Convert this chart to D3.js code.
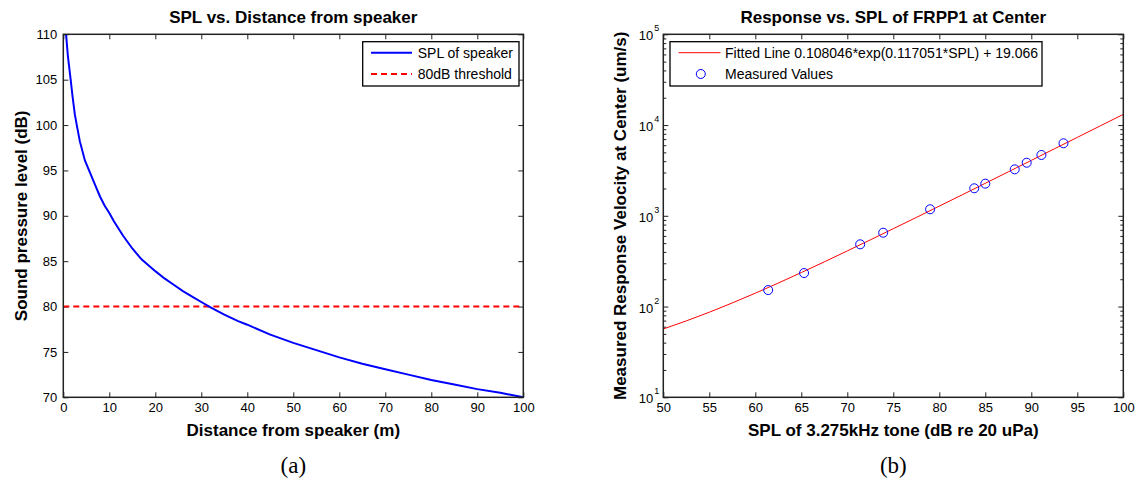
<!DOCTYPE html>
<html>
<head>
<meta charset="utf-8">
<script src="https://cdn.jsdelivr.net/npm/d3@7"></script>
<style>
  body { margin: 0; background: #fff; }
  svg { display: block; }
  text { font-family: "Liberation Sans", Arial, Helvetica, sans-serif; fill: #000; }
</style>
</head>
<body>
<svg id="chart" width="1140" height="482"></svg>
<script>
// ---- Panel (a): sound pressure level against distance ----
const distance = [0.6, 1, 1.6, 2, 2.5, 3, 3.6, 4.7, 5.6, 7, 8, 9, 10, 11, 13, 15, 17, 20, 22, 24, 26, 28, 30,
                  32, 35, 38, 40, 45, 50, 55, 60, 65, 70, 75, 80, 85, 90, 95, 100];
const splSpeaker = [110, 107.6, 105, 103.2, 101.2, 99.8, 98.2, 96.1, 95, 93.3, 92.1, 91.1, 90.3, 89.4, 87.8, 86.4, 85.2, 83.9, 83.1, 82.4, 81.7, 81.1, 80.5,
                    79.9, 79.1, 78.4, 78, 76.9, 76, 75.2, 74.4, 73.7, 73.1, 72.5, 71.9, 71.4, 70.9, 70.5, 70];
const thresholdDb = 80;
const distTicks = [0, 10, 20, 30, 40, 50, 60, 70, 80, 90, 100];
const splTicks = [70, 75, 80, 85, 90, 95, 100, 105, 110];

// ---- Panel (b): response velocity against SPL ----
const fitSPL = [50, 52.5, 55, 57.5, 60, 62.5, 65, 67.5, 70, 72.5, 75, 77.5, 80, 82.5, 85, 87.5, 90, 92.5, 95, 97.5, 100];
const fitVelocity = [56.6, 69.5, 86.6, 109.6, 140.4, 181.5, 236.9, 310.8, 410.2, 542.7, 721.3, 958.8, 1279.5,
                     1705.6, 2281.8, 3050.9, 4081.6, 5464.7, 7312, 9797, 13106];
const measSPL = [61.4, 65.3, 71.4, 73.9, 79.0, 83.8, 85.0, 88.2, 89.5, 91.1, 93.5];
const measVelocity = [152, 234, 485, 651, 1180, 2010, 2260, 3250, 3845, 4680, 6300];
const splTicksB = [50, 55, 60, 65, 70, 75, 80, 85, 90, 95, 100];
const velExponents = [1, 2, 3, 4, 5];

const svg = d3.select("#chart");
const axisColor = "#222";
const labelSize = 17;
const legendSize = 14;

function styleAxis(sel) {
  sel.select(".domain").remove();
  sel.selectAll(".tick line").attr("stroke", axisColor).attr("stroke-width", 1);
  sel.selectAll(".tick text").attr("font-size", 13).attr("fill", "#222")
    .style("font-family", '"Liberation Sans", Arial, sans-serif');
}

function xAxes(g, x, ticks, h) {
  const bottom = g.append("g").attr("transform", `translate(0,${h})`)
    .call(d3.axisBottom(x).tickValues(ticks).tickSizeInner(-5).tickSizeOuter(0).tickPadding(5));
  const top = g.append("g")
    .call(d3.axisTop(x).tickValues(ticks).tickSizeInner(-5).tickSizeOuter(0).tickFormat(""));
  return [bottom, top];
}

function labels(g, w, h, title, xLabel, yLabel, yLabelX, tag) {
  g.append("text").attr("x", w / 2).attr("y", -11.5).attr("text-anchor", "middle")
    .attr("font-size", labelSize).attr("font-weight", "bold").text(title);
  g.append("text").attr("x", w / 2).attr("y", h + 39).attr("text-anchor", "middle")
    .attr("font-size", labelSize).attr("font-weight", "bold").text(xLabel);
  g.append("text").attr("transform", `translate(${yLabelX},${h / 2}) rotate(-90)`)
    .attr("text-anchor", "middle").attr("font-size", labelSize).attr("font-weight", "bold")
    .text(yLabel);
  g.append("text").attr("x", w / 2).attr("y", h + 76).attr("text-anchor", "middle")
    .style("font-family", '"Liberation Serif", "Times New Roman", serif').attr("font-size", 23)
    .text(tag);
}

// ================= Panel (a) =================
{
  const m = { left: 63.3, top: 34.3 };
  const w = 460, h = 363;
  const g = svg.append("g").attr("transform", `translate(${m.left},${m.top})`);
  const x = d3.scaleLinear().domain([0, 100]).range([0, w]);
  const y = d3.scaleLinear().domain([70, 110]).range([h, 0]);

  g.append("defs").append("clipPath").attr("id", "clipA")
    .append("rect").attr("width", w).attr("height", h);

  const [b, t] = xAxes(g, x, distTicks, h);
  const l = g.append("g").call(d3.axisLeft(y).tickValues(splTicks).tickSizeInner(-5).tickSizeOuter(0).tickPadding(6));
  const r = g.append("g").attr("transform", `translate(${w},0)`)
    .call(d3.axisRight(y).tickValues(splTicks).tickSizeInner(-5).tickSizeOuter(0).tickFormat(""));
  [b, t, l, r].forEach(styleAxis);

  const plot = g.append("g").attr("clip-path", "url(#clipA)");
  plot.append("line")
    .attr("x1", x(0)).attr("x2", x(100))
    .attr("y1", y(thresholdDb)).attr("y2", y(thresholdDb))
    .attr("stroke", "#ff0000").attr("stroke-width", 2).attr("stroke-dasharray", "6,4");
  plot.append("path")
    .datum(distance.map((d, i) => [d, splSpeaker[i]]))
    .attr("fill", "none").attr("stroke", "#0000ff").attr("stroke-width", 2)
    .attr("d", d3.line().x(d => x(d[0])).y(d => y(d[1])));

  g.append("rect").attr("width", w).attr("height", h)
    .attr("fill", "none").attr("stroke", axisColor).attr("stroke-width", 1.5);

  // legend
  const lg = g.append("g").attr("transform", `translate(${362.7 - m.left},${41.7 - m.top})`);
  lg.append("rect").attr("width", 156.3).attr("height", 44.3)
    .attr("fill", "#fff").attr("stroke", "#000").attr("stroke-width", 1.3);
  lg.append("line").attr("x1", 8.3).attr("x2", 49.3).attr("y1", 11).attr("y2", 11)
    .attr("stroke", "#0000ff").attr("stroke-width", 2);
  lg.append("line").attr("x1", 8.3).attr("x2", 49.3).attr("y1", 32.3).attr("y2", 32.3)
    .attr("stroke", "#ff0000").attr("stroke-width", 2).attr("stroke-dasharray", "6,4");
  lg.append("text").attr("x", 55).attr("y", 16).attr("font-size", legendSize).text("SPL of speaker");
  lg.append("text").attr("x", 55).attr("y", 37.3).attr("font-size", legendSize).text("80dB threshold");

  labels(g, w, h, "SPL vs. Distance from speaker", "Distance from speaker (m)",
         "Sound pressure level (dB)", 26.5 - m.left, "(a)");
}

// ================= Panel (b) =================
{
  const m = { left: 663.3, top: 34.3 };
  const w = 460, h = 363;
  const g = svg.append("g").attr("transform", `translate(${m.left},${m.top})`);
  const x = d3.scaleLinear().domain([50, 100]).range([0, w]);
  const y = d3.scaleLog().domain([10, 1e5]).range([h, 0]);

  g.append("defs").append("clipPath").attr("id", "clipB")
    .append("rect").attr("width", w).attr("height", h);

  const [b, t] = xAxes(g, x, splTicksB, h);

  // log ticks: decades plus minor 2..9
  const major = velExponents.map(e => Math.pow(10, e));
  const minor = [];
  velExponents.slice(0, -1).forEach(e => { for (let k = 2; k <= 9; k++) minor.push(k * Math.pow(10, e)); });
  const allTicks = major.concat(minor);
  const l = g.append("g").call(d3.axisLeft(y).tickValues(allTicks).tickSizeInner(-5).tickSizeOuter(0).tickFormat(""));
  const r = g.append("g").attr("transform", `translate(${w},0)`)
    .call(d3.axisRight(y).tickValues(allTicks).tickSizeInner(-5).tickSizeOuter(0).tickFormat(""));
  [b, t, l, r].forEach(styleAxis);
  l.selectAll(".tick line").filter(d => minor.includes(d)).attr("x2", 3);
  r.selectAll(".tick line").filter(d => minor.includes(d)).attr("x2", -3);

  // decade labels 10^n
  const dl = g.append("g");
  velExponents.forEach(e => {
    dl.append("text").attr("x", -10).attr("y", y(Math.pow(10, e)) + 6)
      .attr("text-anchor", "end").attr("font-size", 13).attr("fill", "#222").text("10");
    dl.append("text").attr("x", -9).attr("y", y(Math.pow(10, e)) - 3)
      .attr("font-size", 9).attr("fill", "#222").text(e);
  });

  const plot = g.append("g").attr("clip-path", "url(#clipB)");
  plot.append("path")
    .datum(fitSPL.map((d, i) => [d, fitVelocity[i]]))
    .attr("fill", "none").attr("stroke", "#ff0000").attr("stroke-width", 1)
    .attr("d", d3.line().x(d => x(d[0])).y(d => y(d[1])).curve(d3.curveMonotoneX));
  plot.selectAll("circle.meas")
    .data(measSPL.map((d, i) => [d, measVelocity[i]]))
    .join("circle").attr("class", "meas")
    .attr("cx", d => x(d[0])).attr("cy", d => y(d[1])).attr("r", 4.5)
    .attr("fill", "none").attr("stroke", "#0000ff").attr("stroke-width", 1);

  g.append("rect").attr("width", w).attr("height", h)
    .attr("fill", "none").attr("stroke", axisColor).attr("stroke-width", 1.5);

  // legend
  const lg = g.append("g").attr("transform", `translate(${670 - m.left},${41.7 - m.top})`);
  lg.append("rect").attr("width", 372).attr("height", 44.3)
    .attr("fill", "#fff").attr("stroke", "#000").attr("stroke-width", 1.3);
  lg.append("line").attr("x1", 8.6).attr("x2", 50.5).attr("y1", 11).attr("y2", 11)
    .attr("stroke", "#ff0000").attr("stroke-width", 1);
  lg.append("circle").attr("cx", 30.8).attr("cy", 32.3).attr("r", 4.5)
    .attr("fill", "none").attr("stroke", "#0000ff").attr("stroke-width", 1);
  lg.append("text").attr("x", 55).attr("y", 16).attr("font-size", legendSize)
    .text("Fitted Line 0.108046*exp(0.117051*SPL) + 19.066");
  lg.append("text").attr("x", 55).attr("y", 37.3).attr("font-size", legendSize).text("Measured Values");

  labels(g, w, h, "Response vs. SPL of FRPP1 at Center", "SPL of 3.275kHz tone (dB re 20 uPa)",
         "Measured Response Velocity at Center (um/s)", 626 - m.left, "(b)");
}
</script>
</body>
</html>
